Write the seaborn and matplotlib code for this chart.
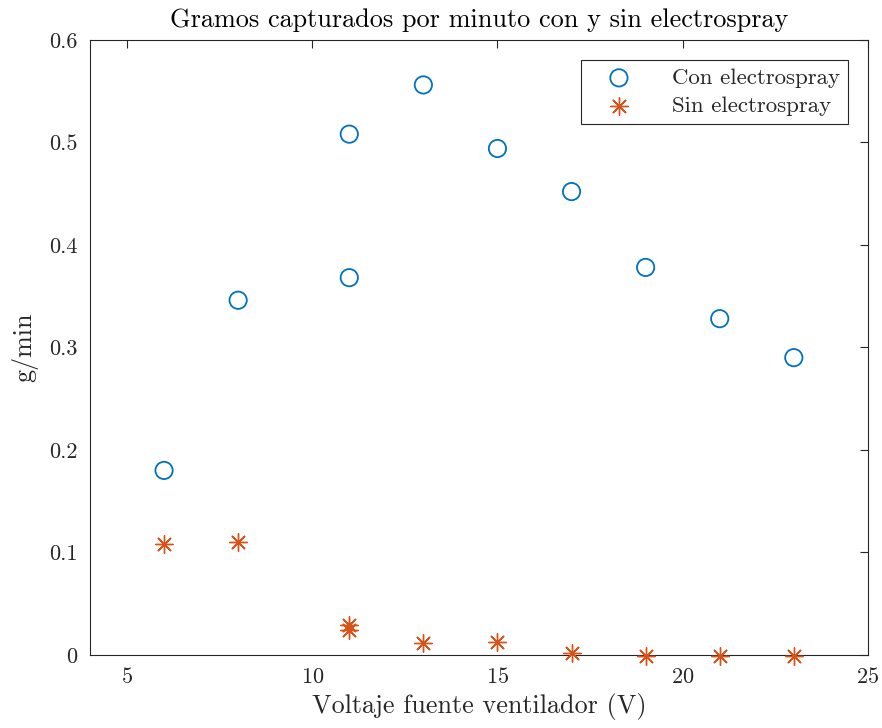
import matplotlib
matplotlib.use("Agg")
import matplotlib.pyplot as plt
import seaborn as sns
import pandas as pd

x_con = [6, 8, 11, 11, 13, 15, 17, 19, 21, 23]
y_con = [0.180, 0.346, 0.368, 0.508, 0.556, 0.494, 0.452, 0.378, 0.328, 0.290]
x_sin = [6, 8, 11, 11, 13, 15, 17, 19, 21, 23]
y_sin = [0.108, 0.110, 0.029, 0.024, 0.012, 0.013, 0.002, -0.001, -0.001, -0.001]

sns.set_theme(style="white")
plt.rcParams["font.family"] = ["serif"]
plt.rcParams["font.serif"] = ["cmr10", "DejaVu Serif"]
plt.rcParams["mathtext.fontset"] = "cm"
plt.rcParams["axes.formatter.use_mathtext"] = True

blue = "#0072BD"
orange = "#D95319"

fig = plt.figure(figsize=(8.82, 7.28), dpi=100)
ax = fig.add_axes([0.102, 0.1003, 0.882, 0.845])

df_con = pd.DataFrame({"x": x_con, "y": y_con})
df_sin = pd.DataFrame({"x": x_sin, "y": y_sin})

sns.scatterplot(data=df_con, x="x", y="y", ax=ax, marker="o", s=155,
                color=blue, label="Con electrospray", clip_on=False, zorder=3)
c1 = ax.collections[-1]
c1.set_facecolor("none")
c1.set_edgecolor(blue)
c1.set_linewidth(1.3)

sns.scatterplot(data=df_sin, x="x", y="y", ax=ax, marker=(8, 2, 0), s=160,
                color=orange, label="Sin electrospray", clip_on=False, zorder=3)
c2 = ax.collections[-1]
c2.set_edgecolor(orange)
c2.set_facecolor(orange)
c2.set_linewidth(1.0)

ax.set_xlim(4, 25)
ax.set_ylim(0, 0.6)
ax.set_xticks([5, 10, 15, 20, 25])
ax.set_yticks([0, 0.1, 0.2, 0.3, 0.4, 0.5, 0.6])
ax.set_yticklabels(["0", "0.1", "0.2", "0.3", "0.4", "0.5", "0.6"])
ax.tick_params(direction="in", top=True, right=True, length=6, width=0.8,
               labelsize=16, colors="#262626", pad=9)
for sp in ax.spines.values():
    sp.set_color("#262626")
    sp.set_linewidth(0.8)
ax.set_xlabel("Voltaje fuente ventilador (V)", fontsize=18.8, color="#262626", labelpad=4)
ax.set_ylabel("g/min", fontsize=18.8, color="#262626", labelpad=8)
ax.set_title("Gramos capturados por minuto con y sin electrospray", fontsize=18.9,
             color="#000000", pad=9)

h, l = ax.get_legend_handles_labels()
ax.legend(h, l, loc="upper right", fontsize=16.5, frameon=True, fancybox=False,
          edgecolor="#262626", framealpha=1, borderpad=0.35, handletextpad=1.0,
          bbox_to_anchor=(0.974, 0.9675), borderaxespad=0,
          handlelength=2.6, labelspacing=0.35)
leg = ax.get_legend()
leg.get_frame().set_linewidth(0.8)
lh0 = leg.legend_handles[0]
lh0.set_facecolor("none")
lh0.set_edgecolor(blue)
lh1 = leg.legend_handles[1]
lh1.set_edgecolor(orange)
lh1.set_linewidth(1.0)

fig.savefig("out.png", dpi=100)
